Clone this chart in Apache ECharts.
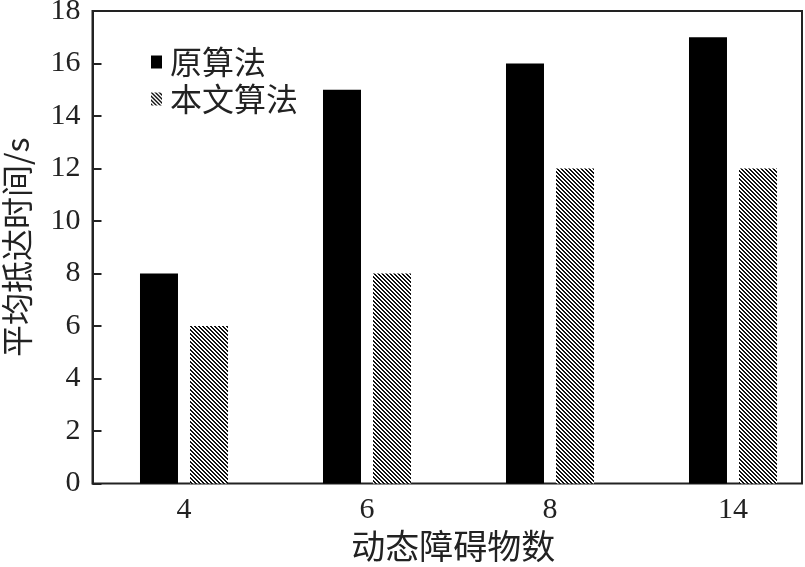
<!DOCTYPE html>
<html>
<head>
<meta charset="utf-8">
<script src="https://cdn.jsdelivr.net/npm/echarts@6/dist/echarts.min.js"></script>
<style>html,body{margin:0;padding:0;background:#fff}#c{width:805px;height:567px}</style>
</head>
<body>
<div id="c"></div>
<script>
const categories = ['4', '6', '8', '14'];
const seriesNames = ['原算法', '本文算法'];
const originalValues = [8, 15, 16, 17];
const proposedValues = [6, 8, 12, 12];
const yTicks = [0, 2, 4, 6, 8, 10, 12, 14, 16, 18];
const xName = '动态障碍物数';
const yName = '平均抵达时间/s';

function makeHatch() {
  const s = 4;
  const cv = document.createElement('canvas');
  cv.width = s; cv.height = s;
  const ctx = cv.getContext('2d');
  ctx.fillStyle = '#ffffff';
  ctx.fillRect(0, 0, s, s);
  ctx.fillStyle = '#111111';
  for (let y = 0; y < s; y++) {
    for (let k = 0; k < 2; k++) {
      ctx.fillRect((y + k) % s, y, 1, 1);
    }
  }
  return cv;
}
const hatch = { image: makeHatch(), repeat: 'repeat' };

const serifFont = '"Liberation Serif", "DejaVu Serif", serif';
const cjkFont = '"Noto Sans CJK SC", sans-serif';
const ink = '#222';
const yMin = yTicks[0];
const yMax = yTicks[yTicks.length - 1];

const chart = echarts.init(document.getElementById('c'), null, { renderer: 'canvas' });
chart.setOption({
  animation: false,
  backgroundColor: '#fff',
  grid: [
    { left: 92.5, top: 11, right: -19.5, bottom: 83.5, containLabel: false, outerBoundsMode: 'none' },
    { left: 92.5, top: 11, right: 3, bottom: 83.5, show: true, borderColor: ink, borderWidth: 2, backgroundColor: 'transparent', containLabel: false, outerBoundsMode: 'none' }
  ],
  legend: {
    orient: 'vertical',
    left: 146,
    top: 41,
    itemWidth: 11,
    itemHeight: 13,
    itemGap: 5,
    icon: 'rect',
    data: seriesNames,
    textStyle: { fontFamily: cjkFont, fontSize: 32, color: ink, padding: [0, 0, 0, 3] }
  },
  xAxis: [
    {
      type: 'category', gridIndex: 0, data: categories,
      axisLine: { show: false }, axisTick: { show: false },
      axisLabel: { fontFamily: serifFont, fontSize: 30, color: ink, margin: 12 }
    },
    {
      type: 'value', gridIndex: 1, min: 0, max: 1,
      axisLine: { show: false }, axisTick: { show: false }, axisLabel: { show: false }, splitLine: { show: false },
      name: xName, nameLocation: 'middle', nameGap: 46,
      nameTextStyle: { fontFamily: cjkFont, fontSize: 34, color: ink, padding: [0, 0, 0, 12] }
    }
  ],
  yAxis: [
    {
      type: 'value', gridIndex: 0, min: yMin, max: yMax, interval: 2, show: false
    },
    {
      type: 'value', gridIndex: 1, min: yMin, max: yMax, interval: 2,
      axisLine: { show: true, lineStyle: { color: ink, width: 2 } },
      axisTick: { show: true, inside: false, length: -9, lineStyle: { color: ink, width: 2 } },
      axisLabel: { fontFamily: serifFont, fontSize: 30, color: ink, margin: 12, padding: [3, 0, 0, 0] },
      splitLine: { show: false },
      name: yName, nameLocation: 'middle', nameGap: 60, nameRotate: 90,
      nameTextStyle: { fontFamily: cjkFont, fontSize: 32, color: ink }
    }
  ],
  series: [
    {
      name: seriesNames[0], type: 'bar', xAxisIndex: 0, yAxisIndex: 0,
      data: originalValues, barWidth: 38, barGap: '31.6%',
      itemStyle: { color: '#000' }
    },
    {
      name: seriesNames[1], type: 'bar', xAxisIndex: 0, yAxisIndex: 0,
      data: proposedValues, barWidth: 38, barGap: '31.6%',
      itemStyle: { color: hatch }
    }
  ]
});
</script>
</body>
</html>
